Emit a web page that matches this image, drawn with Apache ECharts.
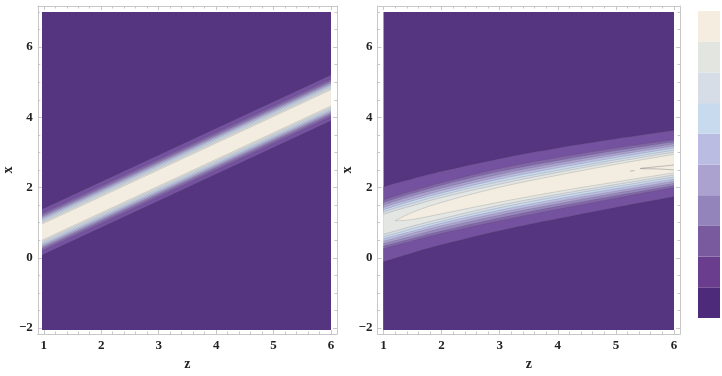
<!DOCTYPE html>
<html>
<head>
<meta charset="utf-8">
<script src="https://cdn.jsdelivr.net/npm/echarts@6/dist/echarts.min.js"></script>
<style>
  html, body { margin: 0; padding: 0; background: #fff; }
  #main { width: 722px; height: 376px; }
</style>
</head>
<body>
<div id="main"></div>
<script>
// tick labels
const zTicks = [1, 2, 3, 4, 5, 6];
const xTicks = [-2, 0, 2, 4, 6];
const zMinorTicks = [1.2, 1.4, 1.6, 1.8, 2.2, 2.4, 2.6, 2.8, 3.2, 3.4, 3.6, 3.8, 4.2, 4.4, 4.6, 4.8, 5.2, 5.4, 5.6, 5.8];
const xMinorTicks = [-1.5, -1, -0.5, 0.5, 1, 1.5, 2.5, 3, 3.5, 4.5, 5, 5.5, 6.5, 7];

// colour bar, bottom to top
const barColors = ['#4e2a7a', '#6b3d8e', '#7a5a9e', '#9385bb', '#aca2cf', '#bbbce2', '#c8daee', '#d6dde6', '#e3e5e1', '#f4ede0'];
const colorbarSteps = [1, 1, 1, 1, 1, 1, 1, 1, 1, 1];
// the same levels as they show inside the plots (lowest = background)
const plotColors = ['#55357f', '#74529f', '#8467a9', '#9789be', '#aca3cf', '#bcbde2', '#c9d9ec', '#d7dee6', '#e4e6e3', '#f3ede1'];

// left panel: straight ridge, centre line and half widths of the 9 contours (outer -> inner)
const leftZ = [1, 6];
const leftCenter = [0.77, 4.57];
const leftHalf = [0.65, 0.53, 0.47, 0.43, 0.39, 0.35, 0.31, 0.27, 0.23];

// right panel: curved ridge
const rightZ = [1, 1.2, 1.5, 2, 3, 4, 5, 6];
const rightCenter = [0.99, 1.09, 1.23, 1.45, 1.83, 2.15, 2.44, 2.71];
const rightHalf = [
  [1.06, 1.06, 1.05, 1.04, 1.02, 1.00, 0.97, 0.94],
  [0.69, 0.70, 0.71, 0.72, 0.74, 0.73, 0.71, 0.68],
  [0.62, 0.63, 0.64, 0.65, 0.66, 0.65, 0.64, 0.62],
  [0.55, 0.56, 0.57, 0.57, 0.58, 0.58, 0.57, 0.56],
  [0.48, 0.49, 0.49, 0.50, 0.51, 0.51, 0.51, 0.50],
  [0.41, 0.42, 0.43, 0.43, 0.44, 0.44, 0.44, 0.44],
  [0.35, 0.36, 0.36, 0.37, 0.37, 0.37, 0.38, 0.38],
  [0.28, 0.29, 0.29, 0.30, 0.30, 0.31, 0.32, 0.32],
  [null, 0.00, 0.10, 0.16, 0.21, 0.23, 0.25, 0.26]
];
// little closed contour near the right end of the right ridge
const innerContour = [[5.24, 2.5], [5.32, 2.51], null, [6, 2.67], [5.7, 2.62], [5.42, 2.57], [5.7, 2.56], [6, 2.53]];

const Z_RANGE = [1, 6];
const X_RANGE = [-2, 7];
const Z_FRAME = [0.896, 6.104];
const X_FRAME = [-2.17, 7.17];

const frameColor = '#c8c8c8';
const contourLine = 'rgba(70,70,80,0.3)';
const serif = 'Liberation Serif';

const chart = echarts.init(document.getElementById('main'));

function frameAxis(gridIndex, position, range, ticks, len, major, labels, name, isY) {
  return {
    type: 'value',
    gridIndex: gridIndex,
    position: position,
    min: range[0],
    max: range[1],
    name: name,
    nameLocation: 'middle',
    nameGap: isY ? 20 : 23,
    nameRotate: isY ? 90 : 0,
    nameTextStyle: { fontFamily: serif, fontWeight: 'bold', fontSize: 14, color: '#222' },
    axisLine: { show: major, onZero: false, lineStyle: { color: frameColor, width: 1 } },
    axisTick: { show: true, inside: true, length: len, customValues: ticks, lineStyle: { color: frameColor, width: 1 } },
    axisLabel: {
      show: labels,
      customValues: ticks,
      margin: 5,
      fontFamily: serif,
      fontWeight: 'bold',
      fontSize: 13,
      color: '#222',
      formatter: (v) => String(v).replace('-', '\u2212')
    },
    splitLine: { show: false }
  };
}

const plots = [
  {
    frame: { left: 36, top: 6, width: 301, height: 330 },
    data: { left: 42, top: 12, width: 289, height: 318 },
    z: leftZ, center: leftCenter, half: (k, i) => leftHalf[k], smooth: false
  },
  {
    frame: { left: 377.5, top: 6, width: 302.5, height: 330 },
    data: { left: 383.5, top: 12, width: 290.5, height: 318 },
    z: rightZ, center: rightCenter, half: (k, i) => rightHalf[k][i], smooth: 0.4
  }
];

const grids = [];
const xAxes = [];
const yAxes = [];
const series = [];

plots.forEach((p, pi) => {
  const fg = grids.length; grids.push(p.frame);
  const dg = grids.length; grids.push(p.data);

  xAxes.push(frameAxis(fg, 'bottom', Z_FRAME, zTicks, 4, true, true, 'z', false));
  xAxes.push(frameAxis(fg, 'bottom', Z_FRAME, zMinorTicks, 2.5, false, false, '', false));
  xAxes.push(frameAxis(fg, 'top', Z_FRAME, zTicks, 4, true, false, '', false));
  xAxes.push(frameAxis(fg, 'top', Z_FRAME, zMinorTicks, 2.5, false, false, '', false));
  yAxes.push(frameAxis(fg, 'left', X_FRAME, xTicks, 4, true, true, 'x', true));
  yAxes.push(frameAxis(fg, 'left', X_FRAME, xMinorTicks, 2.5, false, false, '', true));
  yAxes.push(frameAxis(fg, 'right', X_FRAME, xTicks, 4, true, false, '', true));
  yAxes.push(frameAxis(fg, 'right', X_FRAME, xMinorTicks, 2.5, false, false, '', true));

  const xi = xAxes.length;
  xAxes.push({ type: 'value', gridIndex: dg, min: Z_RANGE[0], max: Z_RANGE[1], show: false });
  const yi = yAxes.length;
  yAxes.push({ type: 'value', gridIndex: dg, min: X_RANGE[0], max: X_RANGE[1], show: false });

  // painted top-down, every area fills down to x = -2
  const layers = [];
  layers.push({ vals: p.z.map(() => X_RANGE[1]), color: plotColors[0], line: false });
  for (let k = 0; k < 9; k++) {
    layers.push({
      vals: p.z.map((zz, i) => { const h = p.half(k, i); return h == null ? null : p.center[i] + h; }),
      color: plotColors[k + 1], line: true
    });
  }
  for (let k = 8; k >= 0; k--) {
    layers.push({
      vals: p.z.map((zz, i) => { const h = p.half(k, i); return h == null ? null : p.center[i] - h; }),
      color: plotColors[k], line: true
    });
  }
  layers.forEach((l) => {
    series.push({
      type: 'line',
      xAxisIndex: xi,
      yAxisIndex: yi,
      data: p.z.map((zz, i) => [zz, l.vals[i]]),
      symbol: 'none',
      smooth: p.smooth,
      lineStyle: { color: contourLine, width: l.line ? 0.6 : 0, opacity: l.line ? 1 : 0 },
      areaStyle: { color: l.color, opacity: 1, origin: 'start' },
      silent: true
    });
  });
  if (pi === 1) {
    series.push({
      type: 'line', xAxisIndex: xi, yAxisIndex: yi,
      data: innerContour, symbol: 'none', smooth: 0.3,
      lineStyle: { color: 'rgba(70,70,80,0.45)', width: 0.7 }, silent: true
    });
  }
});

// colour bar
const cg = grids.length;
grids.push({ left: 698, top: 11, width: 22, height: 307 });
const cxi = xAxes.length;
xAxes.push({ type: 'category', gridIndex: cg, data: ['c'], show: false });
const cyi = yAxes.length;
yAxes.push({ type: 'value', gridIndex: cg, min: 0, max: 10, show: false });
colorbarSteps.forEach((v, i) => {
  series.push({
    type: 'bar', xAxisIndex: cxi, yAxisIndex: cyi, stack: 'bar',
    data: [v], barWidth: '100%',
    itemStyle: { color: barColors[i] }, silent: true
  });
});

chart.setOption({
  backgroundColor: '#ffffff',
  animation: false,
  grid: grids,
  xAxis: xAxes,
  yAxis: yAxes,
  series: series
});
</script>
</body>
</html>
